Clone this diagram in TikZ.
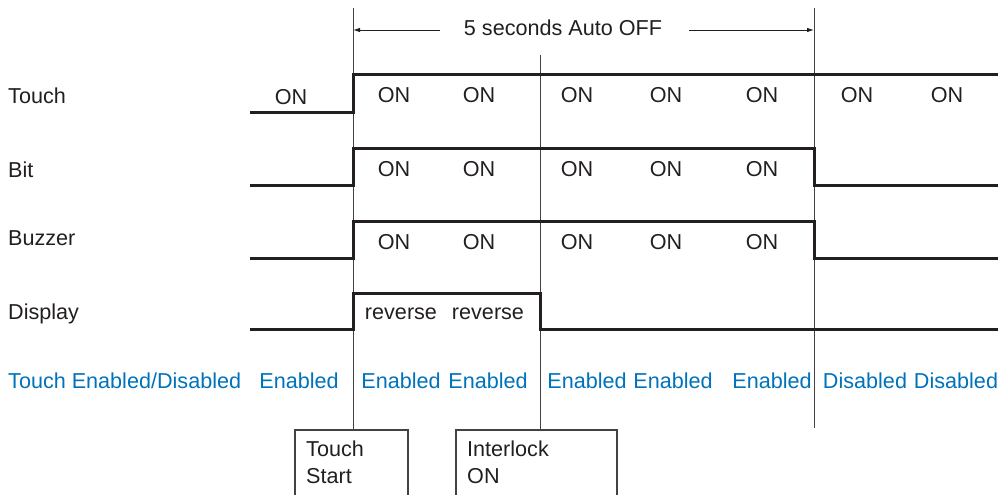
\documentclass[tikz,border=0pt]{standalone}
\usepackage{fontspec}
\setmainfont{Liberation Sans}
\usetikzlibrary{arrows.meta}
\definecolor{ink}{RGB}{35,31,32}
\definecolor{eblue}{RGB}{0,114,188}
\begin{document}
\begin{tikzpicture}[x=1pt,y=-1pt,
  txt/.style={font=\fontsize{21.6}{26}\selectfont, text=ink, inner sep=0pt, anchor=base},
  lbl/.style={txt, anchor=base west},
  en/.style={txt, text=eblue},
  sig/.style={draw=ink, line width=3pt, line join=miter},
  vline/.style={draw=ink!85, line width=0.9pt},
  tarrow/.style={draw=ink, line width=0.9pt, -{Latex[length=7pt,width=4.5pt]}},
  boxline/.style={draw=ink!85, line width=1.1pt},
]
\useasboundingbox (0,0) rectangle (1004,495);

% row labels
\node[lbl] (lTouch) at (8,103) {Touch};
\node[lbl] (lBit) at (8,177) {Bit};
\node[lbl] (lBuzzer) at (8,245) {Buzzer};
\node[lbl] (lDisplay) at (8,319) {Display};
\node[lbl, text=eblue] (lEnable) at (8,388) {Touch Enabled/Disabled};

% vertical markers
\coordinate (v1top) at (353,8);
\coordinate (v2top) at (540,55);
\coordinate (v3top) at (814,8);
\coordinate (v3bot) at (814,428);

% bottom boxes
\coordinate (b1nw) at (295,430);
\coordinate (b1ne) at (408,430);
\coordinate (b2nw) at (456,430);
\coordinate (b2ne) at (617,430);
\draw[boxline] (295,500) -- (b1nw) -- (b1ne) -- (408,500);
\draw[boxline] (456,500) -- (b2nw) -- (b2ne) -- (617,500);
\node[lbl] (tTouch) at (306,456) {Touch};
\node[lbl] (tStart) at (306,483) {Start};
\node[lbl] (tInter) at (467,456) {Interlock};
\node[lbl] (tOn) at (467,483) {ON};

\draw[vline] (v1top) -- (v1top |- b1nw);
\draw[vline] (v2top) -- (v2top |- b2nw);
\draw[vline] (v3top) -- (v3bot);

% duration arrow
\node[txt] (title) at (563,36) {5 seconds Auto OFF};
\coordinate (aL) at (440,30);
\coordinate (aR) at (689,30);
\draw[tarrow] (aL) -- (v1top |- aL);
\draw[tarrow] (aR) -- (v3top |- aR);

% waveforms
\draw[sig] (250,112) -- (353,112) -- (353,75) -- (998,75);
\draw[sig] (250,185) -- (353,185) -- (353,148) -- (814,148) -- (814,185) -- (998,185);
\draw[sig] (250,258) -- (353,258) -- (353,221) -- (814,221) -- (814,258) -- (998,258);
\draw[sig] (250,329) -- (353,329) -- (353,293) -- (540,293) -- (540,329) -- (998,329);

% Touch row states
\node[txt] (t0) at (291,104.5) {ON};
\foreach \x [count=\i] in {394,479,577,666,762,857,947}
  \node[txt] (t\i) at (\x,102.5) {ON};
% Bit row
\foreach \x [count=\i] in {394,479,577,666,762}
  \node[txt] (b\i) at (\x,176.5) {ON};
% Buzzer row
\foreach \x [count=\i] in {394,479,577,666,762}
  \node[txt] (z\i) at (\x,249.5) {ON};
% Display row
\node[txt] (d1) at (401,319) {reverse};
\node[txt] (d2) at (488,319) {reverse};

% Enabled row
\node[en] (e0) at (299,388) {Enabled};
\node[en] (e1) at (401,388) {Enabled};
\node[en] (e2) at (488,388) {Enabled};
\node[en] (e3) at (587,388) {Enabled};
\node[en] (e4) at (673,388) {Enabled};
\node[en] (e5) at (772,388) {Enabled};
\node[en] (e6) at (865,388) {Disabled};
\node[en] (e7) at (956,388) {Disabled};
\end{tikzpicture}
\end{document}
